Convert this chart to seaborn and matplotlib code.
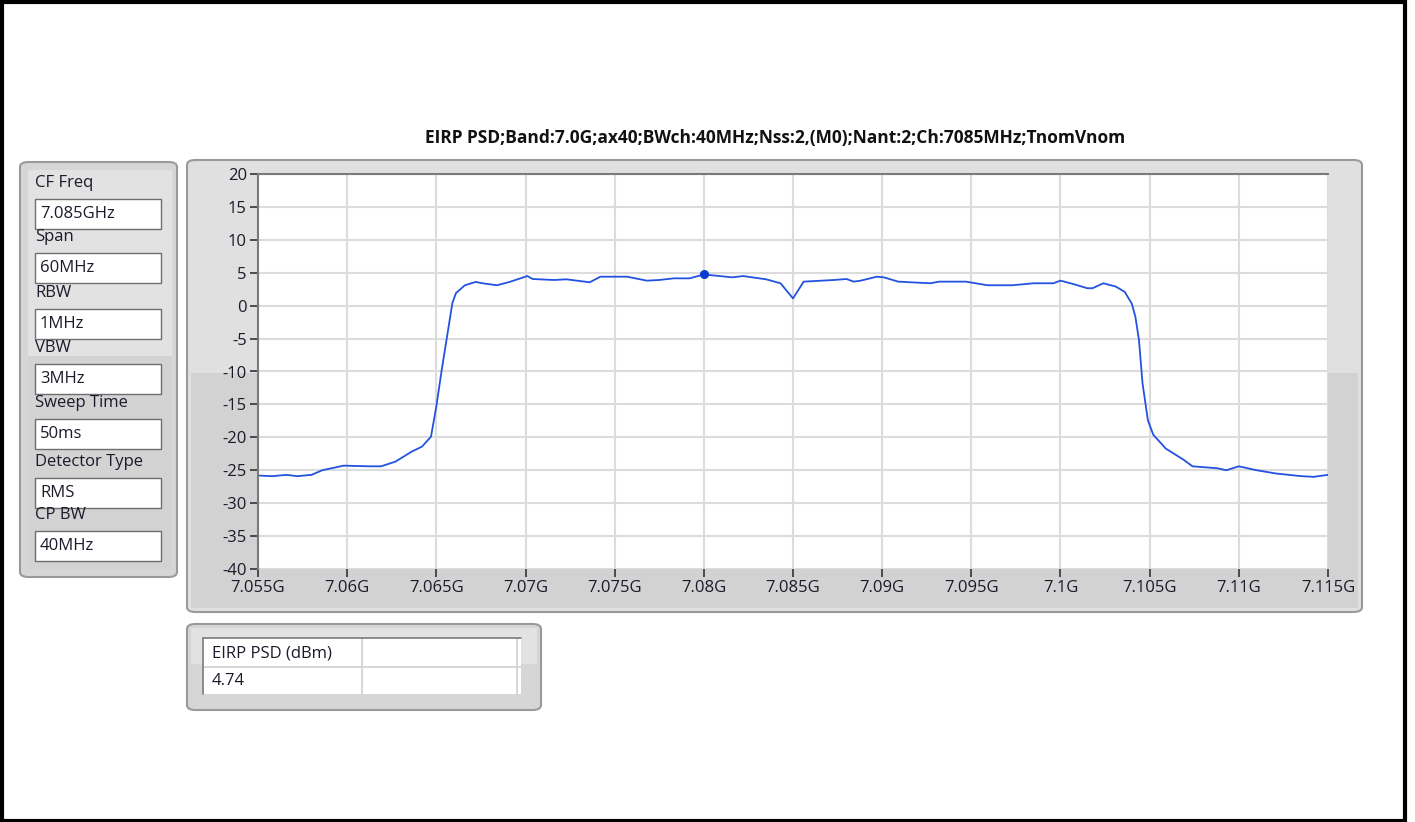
import numpy as np
import pandas as pd
import matplotlib
matplotlib.use("Agg")
import matplotlib.pyplot as plt
from matplotlib.patches import FancyBboxPatch, Rectangle
import seaborn as sns

W, H = 1415, 822

# trace (MHz, dBm)
freq_mhz = [7055.0, 7055.8, 7056.6, 7057.2, 7058.0, 7058.6, 7059.8, 7061.2, 7061.9,
            7062.7, 7063.6, 7064.2, 7064.7, 7065.0, 7065.3, 7065.6, 7065.9, 7066.1,
            7066.6, 7067.2, 7067.6, 7068.4, 7069.1, 7070.1, 7070.4, 7071.6, 7072.3,
            7073.6, 7074.2, 7075.7, 7076.8, 7077.5, 7078.3, 7079.2, 7080.0, 7081.6,
            7082.2, 7083.5, 7084.3, 7085.0, 7085.6, 7087.3, 7088.0, 7088.4, 7088.8,
            7089.7, 7090.1, 7090.9, 7092.7, 7093.2, 7094.7, 7095.9, 7097.3, 7098.5,
            7099.6, 7100.0, 7100.7, 7101.5, 7101.8, 7102.4, 7103.1, 7103.6, 7104.0,
            7104.2, 7104.4, 7104.6, 7104.9, 7105.2, 7105.9, 7106.9, 7107.4, 7108.8,
            7109.3, 7110.0, 7111.0, 7112.1, 7113.5, 7114.2, 7115.0]
psd_dbm = [-25.8, -25.9, -25.7, -25.9, -25.7, -25.0, -24.3, -24.4, -24.4,
           -23.7, -22.2, -21.4, -19.9, -15.3, -9.8, -4.7, 0.4, 1.9,
           3.1, 3.6, 3.4, 3.1, 3.6, 4.5, 4.05, 3.9, 4.0,
           3.55, 4.4, 4.4, 3.8, 3.9, 4.15, 4.15, 4.74, 4.3,
           4.5, 4.0, 3.4, 1.1, 3.65, 3.9, 4.05, 3.65, 3.8,
           4.4, 4.3, 3.65, 3.4, 3.65, 3.65, 3.1, 3.1, 3.4,
           3.4, 3.8, 3.3, 2.65, 2.65, 3.4, 2.9, 2.1, 0.3,
           -1.7, -5.2, -11.8, -17.4, -19.6, -21.7, -23.4, -24.4, -24.7,
           -25.0, -24.4, -25.0, -25.5, -25.9, -26.0, -25.7]

marker_freq = 7080.0
marker_psd = 4.74

x_ticks = [7.055, 7.06, 7.065, 7.07, 7.075, 7.08, 7.085, 7.09, 7.095, 7.1, 7.105, 7.11, 7.115]
x_labels = ["7.055G", "7.06G", "7.065G", "7.07G", "7.075G", "7.08G", "7.085G",
            "7.09G", "7.095G", "7.1G", "7.105G", "7.11G", "7.115G"]
y_ticks = list(range(-40, 21, 5))

settings = [("CF Freq", "7.085GHz"), ("Span", "60MHz"), ("RBW", "1MHz"), ("VBW", "3MHz"),
            ("Sweep Time", "50ms"), ("Detector Type", "RMS"), ("CP BW", "40MHz")]
title = "EIRP PSD;Band:7.0G;ax40;BWch:40MHz;Nss:2,(M0);Nant:2;Ch:7085MHz;TnomVnom"

df = pd.DataFrame({"freq": np.array(freq_mhz) / 1000.0, "psd": psd_dbm})

sns.set_style("white")
plt.rcParams["font.family"] = ["Open Sans", "DejaVu Sans"]
plt.rcParams["axes.unicode_minus"] = False

fig = plt.figure(figsize=(W / 100, H / 100), dpi=100)


def fx(x):
    return x / W


def fy(y):
    return 1 - y / H


def box(x0, y0, x1, y1, fc, ec="none", lw=1.0, rounded=False, z=0):
    if rounded:
        p = FancyBboxPatch((fx(x0), fy(y1)), fx(x1 - x0), (y1 - y0) / H,
                           boxstyle="round,pad=0,rounding_size=0.006",
                           transform=fig.transFigure, fc=fc, ec=ec, lw=lw, zorder=z)
    else:
        p = Rectangle((fx(x0), fy(y1)), fx(x1 - x0), (y1 - y0) / H,
                      transform=fig.transFigure, fc=fc, ec=ec, lw=lw, zorder=z)
    fig.patches.append(p)


def hline(x0, x1, y, color, lw=1.2):
    fig.lines.append(plt.Line2D([fx(x0), fx(x1)], [fy(y), fy(y)], transform=fig.transFigure,
                                color=color, lw=lw, zorder=4))


def vline(x, y0, y1, color, lw=1.2):
    fig.lines.append(plt.Line2D([fx(x), fx(x)], [fy(y0), fy(y1)], transform=fig.transFigure,
                                color=color, lw=lw, zorder=4))


txt = "#1a1a2a"

# outer frame
box(2, 2, 1405, 821, "white", "black", lw=3)

# settings panel
box(20, 162, 177, 577, "#d6d6d6", "#9a9a9a", lw=1.5, rounded=True, z=1)
box(28, 170, 172, 356, "#e2e2e2", z=2)
box(28, 356, 172, 570, "#d3d3d3", z=2)
ys = [183, 237, 293, 348, 403, 462, 515]
for (lab, val), yl in zip(settings, ys):
    fig.text(fx(35), fy(yl), lab, fontsize=12, va="center", ha="left", color=txt, zorder=5)
    bt = yl + 16
    box(35, bt, 161, bt + 30, "white", "#6e6e6e", lw=1.0, z=3)
    fig.text(fx(40), fy(bt + 15), val, fontsize=12, va="center", ha="left", color=txt, zorder=5)

# graph panel
box(187, 160, 1362, 612, "#e0e0e0", "#9a9a9a", lw=1.5, rounded=True, z=1)
box(191, 373, 1358, 608, "#d2d2d2", z=2)

fig.text(fx(775), fy(138), title, fontsize=12.5, fontweight="bold", ha="center", va="center", color="#111111")

# results table panel
box(187, 624, 541, 710, "#d6d6d6", "#9a9a9a", lw=1.5, rounded=True, z=1)
box(191, 628, 537, 664, "#e2e2e2", z=2)
box(203, 638, 521, 694, "white", z=3)
hline(203, 521, 667, "#d0d0d0")
vline(362, 638, 694, "#d0d0d0")
vline(517, 638, 694, "#d0d0d0")
vline(203, 638, 694, "#7a7a7a")
hline(203, 521, 638, "#7a7a7a")
fig.text(fx(212), fy(653), "EIRP PSD (dBm)", fontsize=12, va="center", ha="left", color=txt, zorder=5)
fig.text(fx(212), fy(681), f"{marker_psd:.2f}", fontsize=12, va="center", ha="left", color=txt, zorder=5)

# plot area
ax = fig.add_axes([fx(258), fy(569), (1328 - 258) / W, (569 - 174) / H], zorder=10)
ax.set_facecolor("white")
sns.lineplot(data=df, x="freq", y="psd", ax=ax, color="#2352e0", lw=1.3)
ax.plot([marker_freq / 1000.0], [marker_psd], "o", color="#0a3ccf", ms=5.5, zorder=5)
ax.set_xlim(7.055, 7.115)
ax.set_ylim(-40, 20)
ax.set_xticks(x_ticks)
ax.set_xticklabels(x_labels)
ax.set_yticks(y_ticks)
ax.grid(True, color="#dcdcdc", lw=1.5)
ax.set_axisbelow(True)
ax.tick_params(axis="both", which="both", direction="out", length=6, width=1.2,
               color="#333333", labelsize=12, labelcolor=txt, pad=2,
               bottom=True, left=True)
ax.set_xlabel("")
ax.set_ylabel("")
for s in ["right", "bottom"]:
    ax.spines[s].set_visible(False)
for s in ["left", "top"]:
    ax.spines[s].set_color("#7a7a7a")
    ax.spines[s].set_linewidth(1.5)

fig.savefig("out.png", dpi=100)
